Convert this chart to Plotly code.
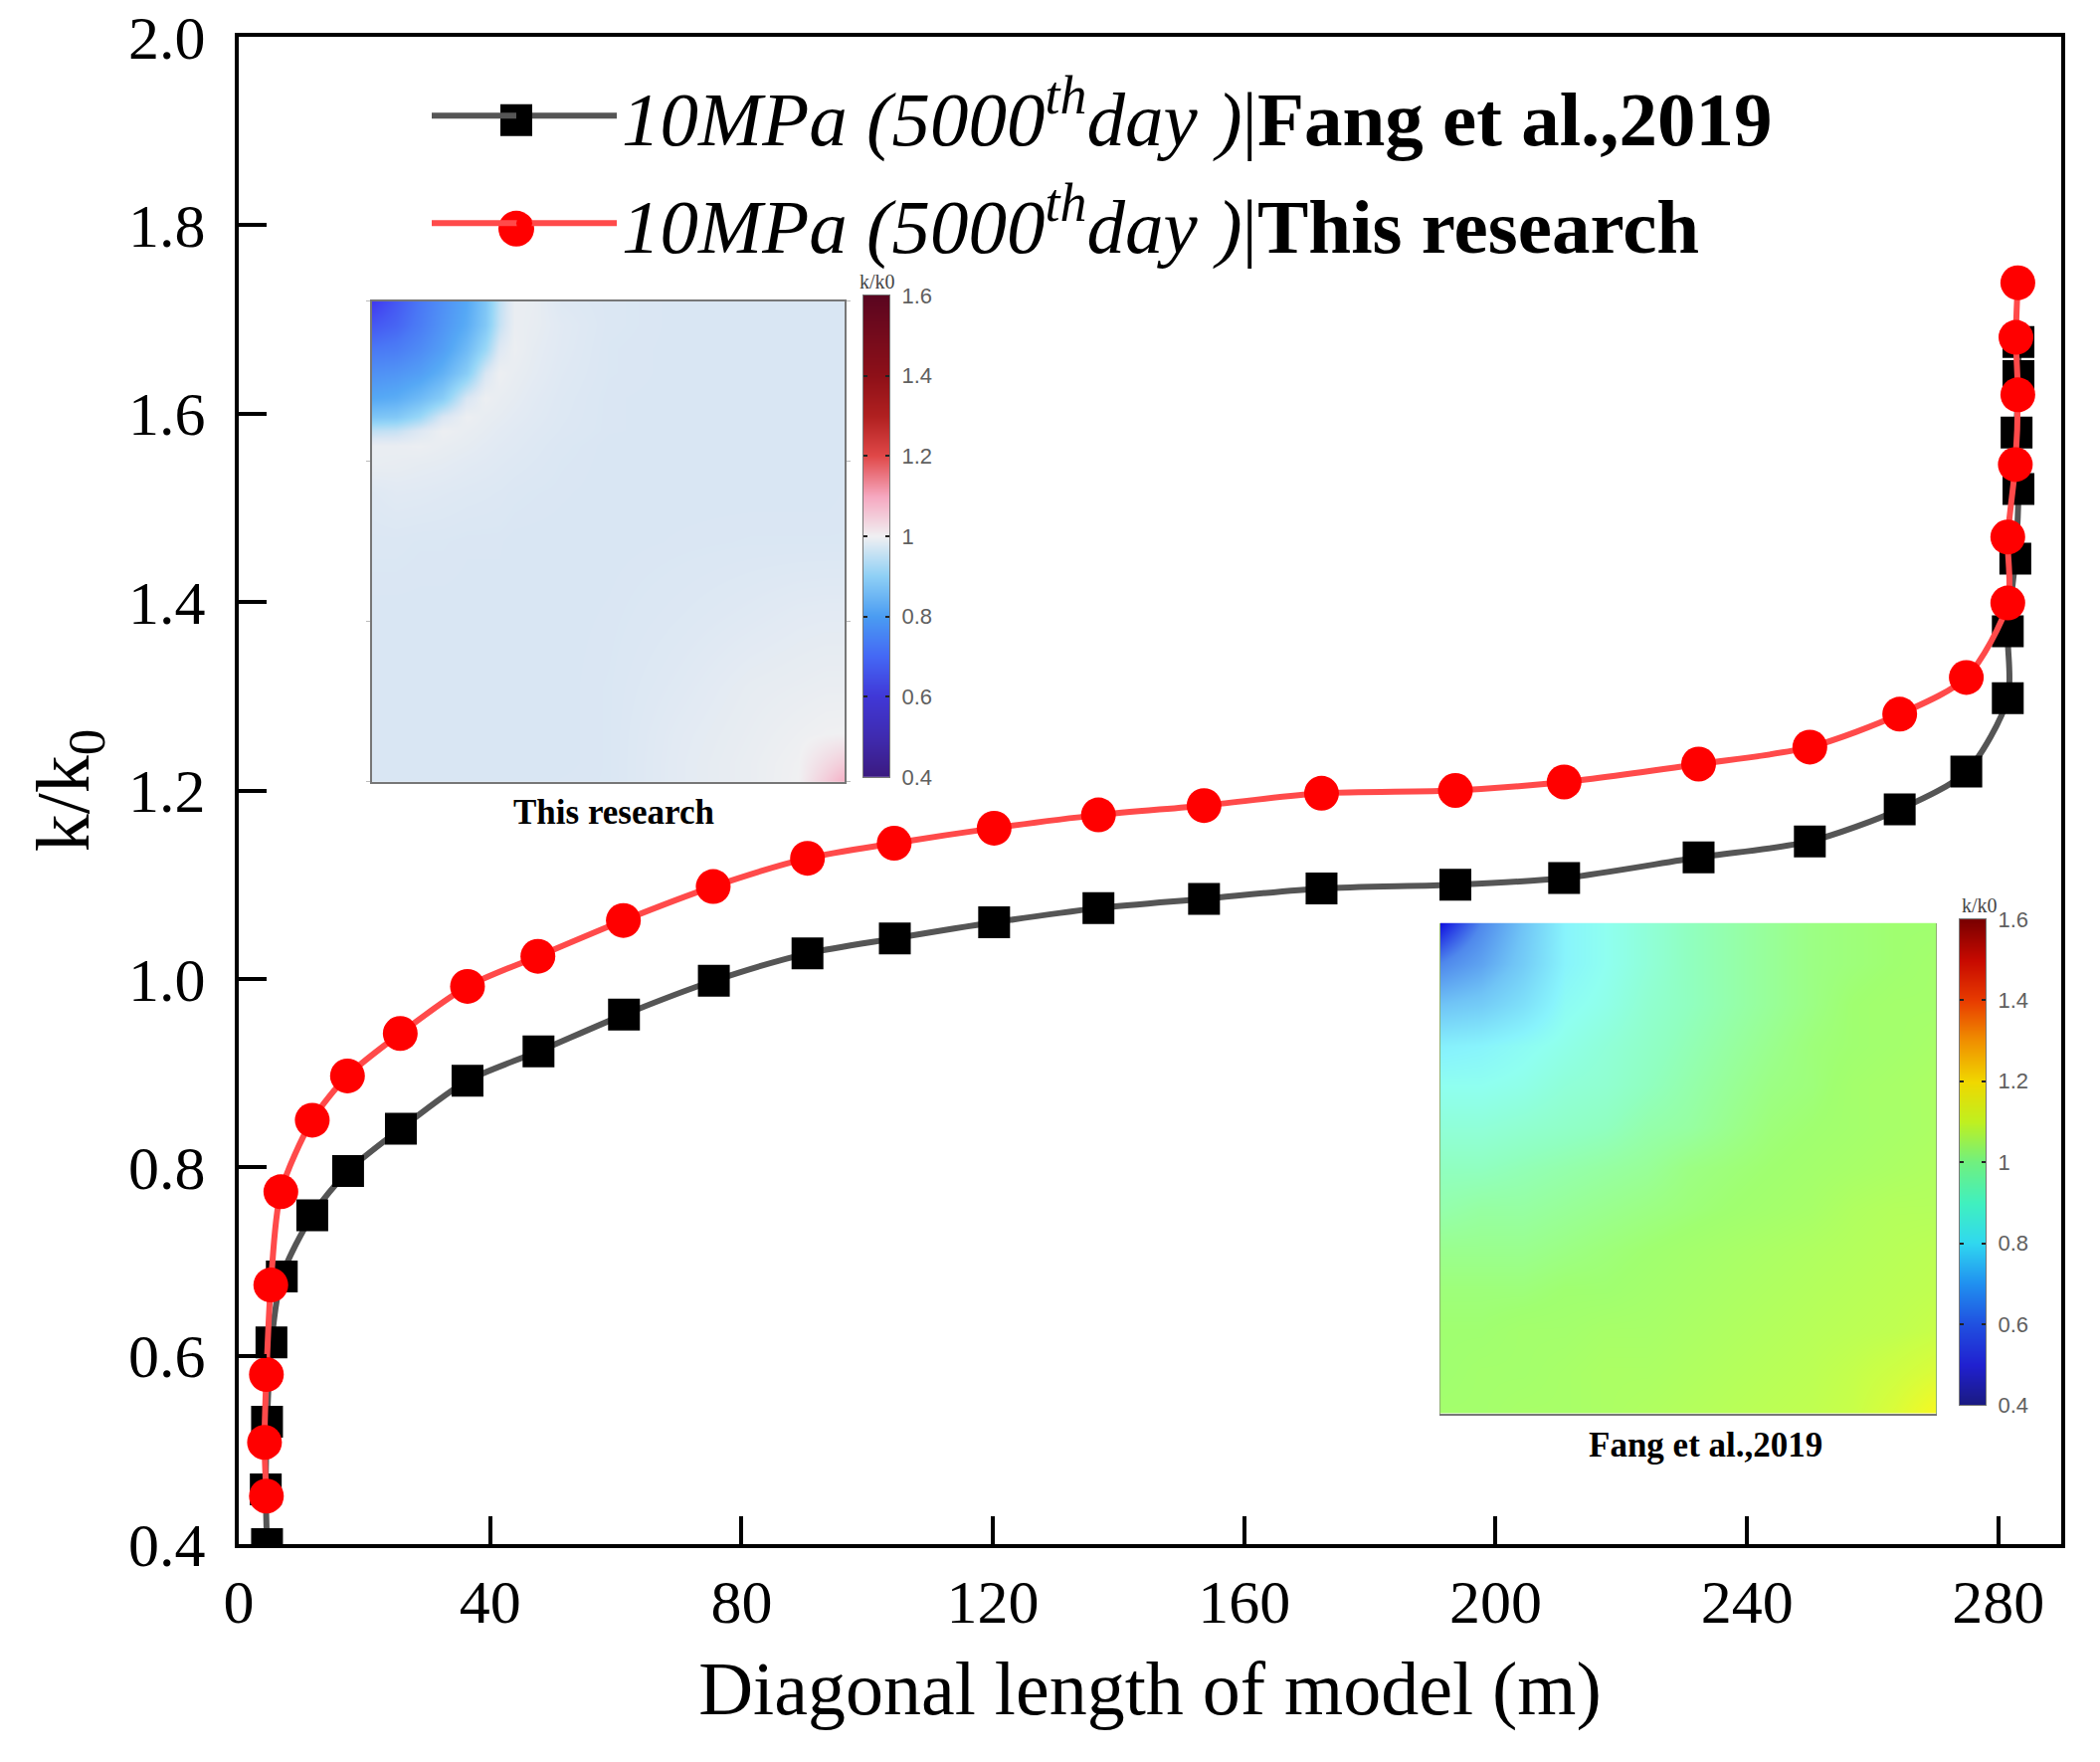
import plotly.graph_objects as go

# ---------- data ----------
fang_x = [4.5, 4.3, 4.5, 5.2, 6.85, 11.7, 17.4, 25.8, 36.4, 47.7, 61.3, 75.6, 90.5, 104.4, 120.2, 136.8,
          153.6, 172.3, 193.6, 210.9, 232.3, 250.0, 264.3, 274.9, 281.5, 281.5, 282.7, 283.2, 282.9, 283.2, 283.2]
fang_y = [0.400, 0.458, 0.530, 0.614, 0.684, 0.749, 0.796, 0.841, 0.892, 0.923, 0.962, 0.998, 1.027, 1.043, 1.060, 1.075,
          1.085, 1.096, 1.100, 1.107, 1.129, 1.146, 1.180, 1.220, 1.298, 1.369, 1.446, 1.520, 1.580, 1.640, 1.676]
this_x = [4.4, 4.1, 4.4, 5.1, 6.7, 11.7, 17.3, 25.7, 36.4, 47.6, 61.2, 75.5, 90.5, 104.3, 120.2, 136.8,
          153.6, 172.3, 193.6, 210.9, 232.3, 250.0, 264.3, 274.9, 281.5, 281.5, 282.7, 283.1, 282.8, 283.1]
this_y = [0.451, 0.508, 0.580, 0.675, 0.774, 0.850, 0.897, 0.942, 0.992, 1.024, 1.062, 1.098, 1.128, 1.144, 1.160, 1.174,
          1.184, 1.197, 1.200, 1.209, 1.228, 1.246, 1.281, 1.320, 1.399, 1.469, 1.546, 1.620, 1.681, 1.739]

x_ticks = [0, 40, 80, 120, 160, 200, 240, 280]
y_ticks = [0.4, 0.6, 0.8, 1.0, 1.2, 1.4, 1.6, 1.8, 2.0]
y_tick_text = ["0.4", "0.6", "0.8", "1.0", "1.2", "1.4", "1.6", "1.8", "2.0"]

legend_fang = "<i>10MPa (5000<sup>th</sup>day )</i>|<b>Fang et al.,2019</b>"
legend_this = "<i>10MPa (5000<sup>th</sup>day )</i>|<b>This research</b>"
x_title = "Diagonal length of model (m)"
y_title = "k/k<sub>0</sub>"
caption_this = "<b>This research</b>"
caption_fang = "<b>Fang et al.,2019</b>"

# inset fields, grids (rows top to bottom)
grid_this = [0, .05, .1, .15, .2, .24, .27, .3, .34, .4, .5, .65, .8, .9, .96, 1]
field_this = [
    [.60, .65, .70, .75, .80, .864, .94, .99, .988, .973, .968, .965, .965, .965, .965, .965],
    [.65, .67, .71, .76, .81, .87, .945, .99, .987, .977, .968, .965, .965, .965, .965, .965],
    [.70, .71, .74, .78, .84, .905, .972, .993, .984, .976, .967, .965, .965, .965, .965, .965],
    [.75, .76, .78, .82, .88, .965, .995, .988, .982, .974, .967, .965, .965, .965, .965, .965],
    [.80, .81, .84, .88, .965, .994, .988, .984, .978, .972, .966, .965, .965, .965, .965, .965],
    [.864, .87, .905, .965, .994, .987, .984, .98, .976, .971, .966, .965, .965, .965, .965, .965],
    [.94, .945, .972, .995, .988, .984, .98, .977, .974, .97, .966, .965, .965, .965, .965, .965],
    [.99, .99, .993, .988, .984, .98, .977, .975, .972, .968, .965, .965, .965, .965, .965, .965],
    [.988, .987, .984, .982, .978, .976, .974, .972, .97, .967, .965, .965, .965, .965, .965, .965],
    [.973, .977, .976, .974, .972, .971, .97, .968, .967, .966, .965, .965, .965, .965, .965, .966],
    [.968, .968, .967, .967, .966, .966, .966, .965, .965, .965, .965, .966, .967, .967, .967, .967],
    [.965, .965, .965, .965, .965, .965, .965, .965, .965, .965, .966, .97, .975, .979, .98, .98],
    [.965, .965, .965, .965, .965, .965, .965, .965, .965, .965, .967, .975, .985, .988, .99, .99],
    [.965, .965, .965, .965, .965, .965, .965, .965, .965, .965, .967, .979, .988, .995, .999, 1.0],
    [.965, .965, .965, .965, .965, .965, .965, .965, .965, .965, .967, .98, .99, .999, 1.03, 1.05],
    [.965, .965, .965, .965, .965, .965, .965, .965, .965, .966, .967, .98, .99, 1.0, 1.05, 1.09],
]
grid_fang = [0, .083, .167, .25, .333, .417, .5, .583, .667, .75, .833, .917, 1]
field_fang = [
    [.45, .55, .66, .78, .81, .84, .87, .89, .91, .93, .94, .95, .95],
    [.55, .60, .68, .78, .81, .84, .87, .89, .91, .93, .94, .95, .96],
    [.66, .68, .73, .80, .82, .85, .87, .89, .91, .93, .95, .96, .96],
    [.77, .78, .80, .82, .84, .86, .88, .90, .92, .94, .95, .96, .97],
    [.81, .81, .82, .84, .85, .87, .89, .91, .93, .94, .96, .97, .98],
    [.84, .84, .85, .86, .87, .89, .90, .92, .94, .95, .96, .97, .98],
    [.87, .87, .88, .89, .90, .91, .93, .94, .95, .96, .97, .98, .99],
    [.89, .90, .90, .91, .92, .93, .94, .95, .96, .97, .99, 1.0, 1.0],
    [.92, .92, .92, .93, .94, .95, .96, .97, .98, .99, 1.0, 1.01, 1.02],
    [.94, .94, .94, .95, .95, .96, .97, .98, .99, 1.0, 1.01, 1.02, 1.03],
    [.95, .95, .96, .96, .97, .97, .98, .99, 1.0, 1.01, 1.02, 1.03, 1.05],
    [.95, .96, .96, .97, .98, .98, .99, 1.0, 1.01, 1.02, 1.04, 1.07, 1.11],
    [.96, .96, .97, .97, .98, .99, 1.0, 1.01, 1.02, 1.03, 1.05, 1.11, 1.20],
]
bar_levels = [0.4, 0.5, 0.6, 0.7, 0.8, 0.9, 1.0, 1.1, 1.2, 1.3, 1.4, 1.5, 1.6]
bar_ticks = [0.4, 0.6, 0.8, 1.0, 1.2, 1.4, 1.6]
bar_tick_text = ["0.4", "0.6", "0.8", "1", "1.2", "1.4", "1.6"]
frame_ticks = [0, 1 / 3, 2 / 3, 1]

# ---------- colour scales ----------
Z0, Z1 = 0.4, 1.6
def scale(pairs):
    return [[(v - Z0) / (Z1 - Z0), c] for v, c in pairs]

wave = scale([(0.4, "#3b1a80"), (0.5, "#3f2bb0"), (0.6, "#4038f0"), (0.7, "#4a78f5"), (0.8, "#55a8f5"),
              (0.9, "#96d6f7"), (0.965, "#d9e6f3"), (1.0, "#f0f0f2"), (1.1, "#f6a8c0"), (1.2, "#e04848"),
              (1.3, "#b02020"), (1.4, "#8e1018"), (1.6, "#5a0520")])
wave_bar = scale([(0.4, "#3b1a80"), (0.5, "#3f2bb0"), (0.6, "#4038d8"), (0.7, "#4468f5"), (0.8, "#4a9cf2"),
                  (0.9, "#8fd0f5"), (1.0, "#f0f0f2"), (1.1, "#f6a8c0"), (1.2, "#e04848"),
                  (1.3, "#b02020"), (1.4, "#8e1018"), (1.6, "#5a0520")])
rainbow_bar = scale([(0.4, "#1a1a80"), (0.5, "#2020d0"), (0.6, "#2050e0"), (0.7, "#2090f0"), (0.8, "#30d8f0"),
                     (0.9, "#40f0c0"), (1.0, "#70f080"), (1.1, "#c0f020"), (1.2, "#f0d800"), (1.3, "#f09000"),
                     (1.4, "#e83c00"), (1.5, "#c80a00"), (1.6, "#7a0000")])
rainbow_map = scale([(0.4, "#0808d8"), (0.45, "#1010e0"), (0.55, "#4f88ec"), (0.66, "#70c4f6"), (0.78, "#88f4fc"),
                     (0.81, "#8ffff0"), (0.87, "#90ffc0"), (0.95, "#a0ff70"), (1.05, "#c8ff48"), (1.2, "#f8f820"),
                     (1.3, "#f09000"), (1.6, "#7a0000")])

# ---------- layout helpers ----------
W, H = 2111, 1771
L, R, T, B = 240, 2072, 37.3, 1551.7
FONT = "Liberation Serif"
SANS = "Liberation Sans"
def px(v):
    return (v - L) / (R - L)
def py(v):
    return 1 - (v - T) / (B - T)
def xdom(a, b):
    return [px(a), px(b)]
def ydom(top, bottom):
    return [py(bottom), py(top)]

fig = go.Figure()
fig.add_trace(go.Scatter(x=fang_x, y=fang_y, name=legend_fang, mode="lines+markers", legendgroup="a",
                         line=dict(color="#555555", width=6, shape="spline", smoothing=0.8),
                         marker=dict(symbol="square", size=32, color="#000000")))
fig.add_trace(go.Scatter(x=this_x, y=this_y, name=legend_this, mode="lines+markers", legendgroup="b",
                         line=dict(color="#ff4a4a", width=6, shape="spline", smoothing=0.8),
                         marker=dict(symbol="circle", size=35, color="#ff0000")))

def add_inset(grid, field, cs, bar_cs, n):
    fig.add_trace(go.Heatmap(z=field, x=grid, y=grid, colorscale=cs, zmin=Z0, zmax=Z1, zsmooth="best",
                             showscale=False, hoverinfo="skip", xaxis=f"x{n}", yaxis=f"y{n}"))
    fig.add_trace(go.Heatmap(z=[[v] for v in bar_levels], x=[0], y=bar_levels, colorscale=bar_cs, zmin=Z0, zmax=Z1,
                             zsmooth="best", showscale=False, hoverinfo="skip", xaxis=f"x{n+1}", yaxis=f"y{n+1}"))

add_inset(grid_this, field_this, wave, wave_bar, 2)
add_inset(grid_fang, field_fang, rainbow_map, rainbow_bar, 4)

map_x = dict(range=[0, 1], showticklabels=False, ticks="", showgrid=False, zeroline=False, showline=True)
map_y = dict(range=[1, 0], showticklabels=False, showgrid=False, zeroline=False,
             showline=True, mirror="allticks", ticks="outside", ticklen=4, tickwidth=1, tickvals=frame_ticks)
bar_x = dict(range=[-0.5, 0.5], showticklabels=False, ticks="", showgrid=False, zeroline=False,
             showline=True, mirror=True, linecolor="#777777", linewidth=1)
bar_y = dict(range=[Z0, Z1], tickvals=bar_ticks, ticktext=bar_tick_text, ticks="inside", ticklen=4, tickwidth=1.5,
             tickcolor="#222222", mirror="allticks", showline=True, linecolor="#777777", linewidth=1,
             showgrid=False, zeroline=False, side="right", ticklabelstandoff=7,
             tickfont=dict(family=SANS, size=22, color="#606060"))

def cap(text, x, y, size, color):
    return dict(text=text, xref="paper", yref="paper", x=px(x), y=py(y), xanchor="center", yanchor="middle",
                showarrow=False, font=dict(family=FONT, size=size, color=color))

fig.update_layout(
    width=W, height=H, autosize=False, margin=dict(l=L, r=W - R, t=T, b=H - B, pad=0, autoexpand=False),
    paper_bgcolor="#ffffff", plot_bgcolor="#ffffff",
    font=dict(family=FONT, color="#000000"),
    xaxis=dict(range=[0, 290], tickvals=x_ticks, ticks="inside", ticklen=28, tickwidth=4, automargin=False,
               tickcolor="#000000", showline=True, linewidth=4, linecolor="#000000", mirror=True, showgrid=False,
               zeroline=False, ticklabelstandoff=1, tickfont=dict(family=FONT, size=62, color="#000000"),
               title=dict(text=x_title, standoff=27, font=dict(family=FONT, size=76, color="#000000"))),
    yaxis=dict(range=[0.4, 2.0], tickvals=y_ticks, ticktext=y_tick_text, ticks="inside", automargin=False,
               ticklen=28, tickwidth=4, tickcolor="#000000", showline=True, linewidth=4, linecolor="#000000",
               mirror=True, showgrid=False, zeroline=False, ticklabelstandoff=17, ticklabeloverflow="allow",
               tickfont=dict(family=FONT, size=62, color="#000000"),
               title=dict(text=y_title, font=dict(family=FONT, size=76, color="#000000"))),
    xaxis2=dict(domain=xdom(374, 849), anchor="y2", linecolor="#777777", linewidth=2, mirror=True, **map_x),
    yaxis2=dict(domain=ydom(303, 786), anchor="x2", linecolor="#777777", linewidth=2, tickcolor="#bbbbbb", **map_y),
    xaxis3=dict(domain=xdom(868, 894), anchor="y3", **bar_x),
    yaxis3=dict(domain=ydom(297, 781), anchor="x3", **bar_y),
    xaxis4=dict(domain=xdom(1448, 1946), anchor="y4", linecolor="#777777", linewidth=2, mirror=False, side="bottom", **map_x),
    yaxis4=dict(domain=ydom(927.5, 1420.5), anchor="x4", linecolor="#8fb070", linewidth=1, tickcolor="#ffffff", **map_y),
    xaxis5=dict(domain=xdom(1970, 1996), anchor="y5", **bar_x),
    yaxis5=dict(domain=ydom(924, 1412), anchor="x5", **bar_y),
    legend=dict(x=px(429), xanchor="left", y=py(60), yanchor="top", bgcolor="rgba(0,0,0,0)", borderwidth=0,
                font=dict(family=FONT, size=77, color="#000000"), itemwidth=186, itemsizing="trace",
                traceorder="grouped", tracegroupgap=5),
    showlegend=True,
    shapes=[
        dict(type="rect", xref="paper", yref="paper", x0=px(503), x1=px(535), y0=py(137), y1=py(105),
             fillcolor="#000000", line=dict(width=0), layer="above"),
        dict(type="circle", xref="paper", yref="paper", x0=px(501), x1=px(537), y0=py(248), y1=py(212),
             fillcolor="#ff0000", line=dict(width=0), layer="above"),
    ],
    annotations=[
        cap(caption_this, 617, 816, 35, "#000000"),
        cap(caption_fang, 1714, 1452, 35, "#000000"),
        cap("k/k0", 882, 283, 20, "#444444"),
        cap("k/k0", 1990, 910, 20, "#444444"),
    ],
)

fig.write_html("out.html", config=dict(displayModeBar=False), post_script="document.body.style.margin='0';")
